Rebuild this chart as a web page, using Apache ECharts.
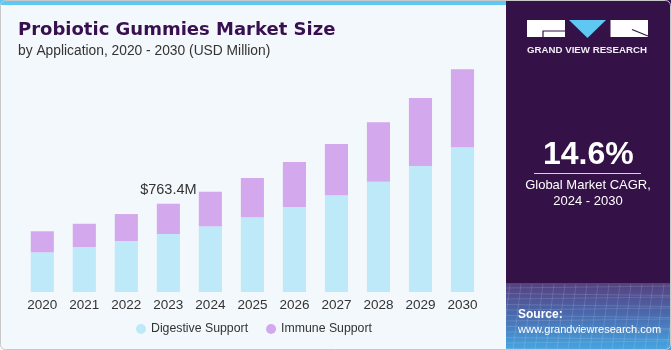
<!DOCTYPE html>
<html>
<head>
<meta charset="utf-8">
<script src="https://cdn.jsdelivr.net/npm/echarts@6/dist/echarts.min.js"></script>
<style>
html,body{margin:0;padding:0;background:#f3f8fc;}
#c{width:671px;height:350px;}
</style>
</head>
<body>
<div id="c"></div>
<script>
const years = ['2020','2021','2022','2023','2024','2025','2026','2027','2028','2029','2030'];
const digestive = [343, 389, 441, 501.4, 568, 646, 735, 836, 954, 1089, 1251];
const immune = [182, 201, 233, 262, 299, 340, 389, 444, 513, 588, 674];
const annotatedIndex = 3;
const annotationText = '$763.4M';
const seriesNames = ['Digestive Support', 'Immune Support'];

const chart = echarts.init(document.getElementById('c'));

const immuneData = immune.map((v, i) => i === annotatedIndex ? {
  value: v,
  label: {show: true, position: 'top', distance: 6, formatter: annotationText,
          fontSize: 14.5, color: '#333', fontFamily: 'Liberation Sans'}
} : v);

// texture lines for the bottom of the side panel
const gridLines = [];
for (let k = 0; k < 12; k++) {
  const y = 288 + k * 5.5;
  gridLines.push({type: 'line', shape: {x1: 506, y1: y, x2: 671, y2: y + (k % 2 ? 2 : -2)},
    style: {stroke: 'rgba(255,255,255,0.13)', lineWidth: 1}, silent: true});
}
for (let k = 0; k < 16; k++) {
  const x = 506 + k * 11;
  gridLines.push({type: 'line', shape: {x1: x + 4, y1: 284, x2: x - 4, y2: 350},
    style: {stroke: 'rgba(255,255,255,0.13)', lineWidth: 1}, silent: true});
}

chart.setOption({
  backgroundColor: '#f3f8fc',
  animation: false,
  title: [{
    text: 'Probiotic Gummies Market Size',
    left: 13, top: 16,
    textStyle: {fontFamily: 'DejaVu Sans', fontWeight: 'bold', fontSize: 18, color: '#381050'}
  }, {
    text: 'by Application, 2020 - 2030 (USD Million)',
    left: 13, top: 39,
    textStyle: {fontFamily: 'Liberation Sans', fontWeight: 'normal', fontSize: 13.8, color: '#333'}
  }],
  legend: {
    data: seriesNames,
    left: 131, top: 318,
    icon: 'circle', itemWidth: 10, itemHeight: 10, itemGap: 18,
    textStyle: {fontFamily: 'Liberation Sans', fontSize: 12.3, color: '#333'}
  },
  grid: {left: 21.3, width: 462.2, top: 60.7, bottom: 58, containLabel: false},
  xAxis: {
    type: 'category', data: years,
    axisLine: {show: false}, axisTick: {show: false},
    axisLabel: {fontFamily: 'Liberation Sans', fontSize: 13.5, color: '#333', margin: 6}
  },
  yAxis: {type: 'value', min: 0, max: 2000, show: false, splitLine: {show: false}},
  series: [{
    name: seriesNames[0], type: 'bar', stack: 'total', data: digestive,
    barWidth: '55%', itemStyle: {color: '#bde9f9'}
  }, {
    name: seriesNames[1], type: 'bar', stack: 'total', data: immuneData,
    barWidth: '55%', itemStyle: {color: '#d4a8ec'}
  }],
  graphic: [
    {type: 'rect', shape: {x: 0, y: 0, width: 506, height: 5}, style: {fill: '#5ec8f2'}, silent: true},
    {type: 'rect', shape: {x: 506, y: 0, width: 165, height: 350}, style: {fill: '#341147'}, silent: true},
    {type: 'rect', shape: {x: 506, y: 283, width: 165, height: 67}, silent: true,
      style: {fill: new echarts.graphic.LinearGradient(0, 0, 0, 1, [
        {offset: 0, color: '#55417f'}, {offset: 0.45, color: '#4a68ac'}, {offset: 1, color: '#46a6e2'}])}},
    ...gridLines,
    // logo
    {type: 'rect', shape: {x: 527, y: 20, width: 38, height: 17}, style: {fill: '#ffffff'}, silent: true},
    {type: 'polyline', shape: {points: [[565, 31], [543, 31], [543, 37]]}, style: {stroke: '#341147', lineWidth: 1.2, fill: null}, silent: true},
    {type: 'polygon', shape: {points: [[569, 20], [606, 20], [587.5, 38]]}, style: {fill: '#5ec8f2'}, silent: true},
    {type: 'rect', shape: {x: 610.5, y: 20, width: 37.5, height: 17}, style: {fill: '#ffffff'}, silent: true},
    {type: 'line', shape: {x1: 632, y1: 29.5, x2: 648, y2: 36}, style: {stroke: '#341147', lineWidth: 1.2}, silent: true},
    {type: 'text', left: 527, top: 45, silent: true,
      style: {text: 'GRAND VIEW RESEARCH', fill: '#f2eef6', font: 'bold 9.7px "Liberation Sans"'}},
    // CAGR
    {type: 'text', left: 543, top: 139, silent: true,
      style: {text: '14.6%', fill: '#ffffff', font: 'bold 32px "Liberation Sans"'}},
    {type: 'line', shape: {x1: 534, y1: 173.5, x2: 641, y2: 173.5}, style: {stroke: '#d8d0e0', lineWidth: 1}, silent: true},
    {type: 'text', x: 588, y: 185, silent: true,
      style: {text: 'Global Market CAGR,', fill: '#ffffff', font: '13px "Liberation Sans"', align: 'center', verticalAlign: 'middle'}},
    {type: 'text', x: 588, y: 201, silent: true,
      style: {text: '2024 - 2030', fill: '#ffffff', font: '13px "Liberation Sans"', align: 'center', verticalAlign: 'middle'}},
    // source
    {type: 'text', x: 518, y: 315, silent: true,
      style: {text: 'Source:', fill: '#ffffff', font: 'bold 12px "Liberation Sans"', verticalAlign: 'middle'}},
    {type: 'text', x: 518, y: 330, silent: true,
      style: {text: 'www.grandviewresearch.com', fill: '#ffffff', font: '11px "Liberation Sans"', verticalAlign: 'middle'}},
    // outer border
    {type: 'rect', shape: {x: 0.5, y: 0.5, width: 670, height: 349, r: 5}, style: {fill: null, stroke: '#c8c8c8', lineWidth: 1}, silent: true}
  ]
});
</script>
</body>
</html>
